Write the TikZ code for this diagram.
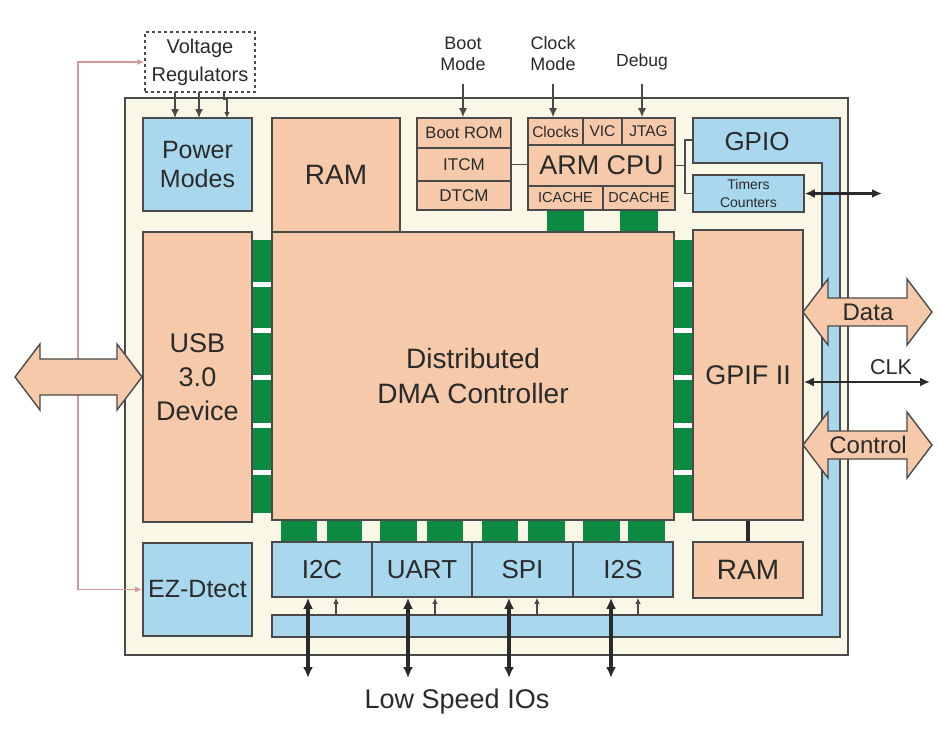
\documentclass[tikz,border=0pt]{standalone}
\usepackage{fontspec}
\setmainfont{Liberation Sans}
\usetikzlibrary{arrows.meta}
\definecolor{peach}{HTML}{F5C9A9}
\definecolor{bluec}{HTML}{A9D8EE}
\definecolor{padg}{HTML}{0C8A42}
\definecolor{cream}{HTML}{F9F7E6}
\definecolor{bord}{HTML}{4A4A4A}
\definecolor{txt}{HTML}{2A2A2A}
\definecolor{pinkl}{HTML}{D49A9A}
\newcommand{\fsz}[2]{\fontsize{#1}{#2}\selectfont}
\begin{document}
\begin{tikzpicture}[x=1pt,y=-1pt,
  sz/.style 2 args={minimum width=#1pt, minimum height=#2pt},
  box/.style={draw=bord, line width=1.6pt, inner sep=0pt, align=center, text=txt},
  peachbox/.style={box, fill=peach},
  bluebox/.style={box, fill=bluec},
  label/.style={inner sep=0pt, align=center, text=txt},
  conn/.style={draw=bord, line width=1.4pt},
  arr/.style={conn, -{Latex[length=9pt,width=8pt]}},
  smallarr/.style={conn, line width=1.1pt, -{Latex[length=6pt,width=5.5pt]}},
  bigio/.style={draw=txt, line width=3.2pt, {Latex[length=11pt,width=10pt]}-{Latex[length=11pt,width=10pt]}},
  fatarrow/.style={draw=bord, line width=1.4pt, fill=peach},
]
\useasboundingbox[fill=white] (0,0) rectangle (939,745);

% chip outline
\node[box, fill=cream, sz={723}{557}] (chip) at (486.5,376.5) {};

% GPIO L-shaped block
\draw[draw=bord, line width=1.6pt, fill=bluec]
  (693,118) -- (840,118) -- (840,637) -- (272,637) -- (272,615) -- (822,615)
  -- (822,163) -- (693,163) -- cycle;
\node[label, font=\fsz{26}{30}] (gpio) at (757,142) {GPIO};
\coordinate (gpiow) at (693,140);

% voltage regulators
\node[box, draw=bord, dashed, line width=1.3pt, fill=white, sz={110}{60}, font=\fsz{20}{28}] (vreg) at (200,62) {Voltage\\Regulators};

% blocks
\node[bluebox, sz={109}{93}, font=\fsz{25}{29}] (pm) at (197.5,164.5) {Power\\Modes};
\node[peachbox, sz={128}{114}, font=\fsz{28}{32}] (ram1) at (336,175) {RAM};
\node[peachbox, sz={402}{288}, font=\fsz{28}{35}] (dma) at (473,376) {Distributed\\DMA Controller};

\node[peachbox, sz={94}{30}, font=\fsz{16.5}{19}] (bootrom) at (464,133) {Boot ROM};
\node[peachbox, sz={94}{33}, font=\fsz{17}{19}] (itcm) at (464,164.5) {ITCM};
\node[peachbox, sz={94}{29}, font=\fsz{17}{19}] (dtcm) at (464,195.5) {DTCM};

\node[peachbox, sz={55}{27}, font=\fsz{15.5}{18}] (clocks) at (555.5,131.5) {Clocks};
\node[peachbox, sz={39}{27}, font=\fsz{15.5}{18}] (vic) at (602.5,131.5) {VIC};
\node[peachbox, sz={53}{27}, font=\fsz{15.5}{18}] (jtag) at (648.5,131.5) {JTAG};
\node[peachbox, sz={147}{41}, font=\fsz{27}{30}] (cpu) at (601.5,165.5) {ARM CPU};
\node[peachbox, sz={75}{24}, font=\fsz{14.5}{17}] (icache) at (565.5,198) {ICACHE};
\node[peachbox, sz={72}{24}, font=\fsz{14.5}{17}] (dcache) at (639,198) {DCACHE};

\node[bluebox, sz={111}{37}, font=\fsz{14}{18}] (timers) at (748.5,193.5) {Timers\\Counters};

\node[peachbox, sz={109}{290}, font=\fsz{27}{34}] (usb) at (197.5,377) {USB\\3.0\\Device};
\node[peachbox, sz={110}{290}, font=\fsz{27}{30}] (gpif) at (748,375) {GPIF II};
\node[peachbox, sz={110}{56}, font=\fsz{28}{32}] (ram2) at (748,570) {RAM};
\node[bluebox, sz={109}{93}, font=\fsz{25}{29}] (ezd) at (197.5,589.5) {EZ-Dtect};

\node[bluebox, sz={100}{55}, font=\fsz{26}{30}] (i2c) at (322,569.5) {I2C};
\node[bluebox, sz={100}{55}, font=\fsz{26}{30}] (uart) at (422,569.5) {UART};
\node[bluebox, sz={101}{55}, font=\fsz{26}{30}] (spi) at (522.5,569.5) {SPI};
\node[bluebox, sz={100}{55}, font=\fsz{26}{30}] (i2s) at (623,569.5) {I2S};

% green interconnect pads
\foreach \a/\b in {547/584, 620/658} \fill[padg] (\a,211) rectangle (\b,231);
\foreach \xa/\xb in {253/271.2, 673.8/692.2} {
  \fill[padg] (\xa,240) rectangle (\xb,513);
  \foreach \g in {282,328,375,423,470} \fill[white] (\xa,\g) rectangle (\xb,\g+5);
}
\foreach \a/\b in {281/317,327/362,380/417,427/463,482/518,528/565,583/620,628/665}
  \fill[padg] (\a,521) rectangle (\b,541);

% top labels and control inputs
\node[label, font=\fsz{18}{21}] (bootmode) at (463,54) {Boot\\Mode};
\node[label, font=\fsz{18}{21}] (clockmode) at (553,54) {Clock\\Mode};
\node[label, font=\fsz{17.5}{21}] (debug) at (642,62) {Debug};
\draw[arr] (bootmode.south |- 0,84) -- (bootmode.south |- bootrom.north);
\draw[arr] (clockmode.south |- 0,84) -- (clockmode.south |- clocks.north);
\draw[arr] (debug.south |- 0,84) -- (debug.south |- jtag.north);

% voltage regulators to power modes
\draw[arr] (175,92) -- (175,118);
\draw[arr] (199,92) -- (199,118);
\draw[smallarr] (224,92) -- (224,99) -- (227,99) -- (227,118);

% pink feedback line
\draw[draw=pinkl, line width=1.2pt, {Latex[length=7pt,width=6pt]}-{Latex[length=7pt,width=6pt]}]
  (vreg.west) -- (78,62) -- (78,589.5) -- (ezd.west);

% CPU connections
\draw[conn] (itcm.east) -- (itcm.east -| cpu.west);
\draw[conn] (cpu.east) -- (685,165.5);
\draw[conn] (gpiow) -- (685,140) -- (685,193.5) -- (timers.west);
\draw[conn, draw=txt, {Latex[length=10pt,width=9pt]}-{Latex[length=10pt,width=9pt]}, line width=2.4pt] (timers.east) -- (882,193.5);

% GPIF to RAM
\draw[draw=txt, line width=4.5pt] (gpif.south) -- (ram2.north);

% big bidirectional arrows
\begin{scope}[shift={(15,377)}]
  \draw[fatarrow] (0,0) -- (25,-33) -- (25,-18) -- (102,-18) -- (102,-33) -- (127,0)
    -- (102,33) -- (102,18) -- (25,18) -- (25,33) -- cycle;
\end{scope}
\begin{scope}[shift={(803,312)}]
  \draw[fatarrow] (0,0) -- (25,-33) -- (25,-14) -- (104,-14) -- (104,-33) -- (129,0)
    -- (104,33) -- (104,14) -- (25,14) -- (25,33) -- cycle;
\end{scope}
\node[label, font=\fsz{24}{28}] (data) at (868,312) {Data};
\begin{scope}[shift={(803,445)}]
  \draw[fatarrow] (0,0) -- (25,-33) -- (25,-14) -- (104,-14) -- (104,-33) -- (129,0)
    -- (104,33) -- (104,14) -- (25,14) -- (25,33) -- cycle;
\end{scope}
\node[label, font=\fsz{24}{28}] (control) at (868,445) {Control};
\draw[conn, draw=txt, line width=2.4pt, {Latex[length=10pt,width=9pt]}-{Latex[length=10pt,width=9pt]}] (gpif.east |- 0,382) -- (930,382);
\node[label, font=\fsz{21.5}{24}] (clk) at (891,367) {CLK};

% low speed IOs
\foreach \bx/\xx/\sx in {i2c/308/336, uart/408/435, spi/509/537, i2s/611/638} {
  \draw[bigio] (\bx.south -| \xx,0) -- (\xx,678);
  \draw[smallarr] (\sx,615) -- (\bx.south -| \sx,0);
}
\node[label, font=\fsz{27}{30}] (lsio) at (457,702) {Low Speed IOs};
\end{tikzpicture}
\end{document}
